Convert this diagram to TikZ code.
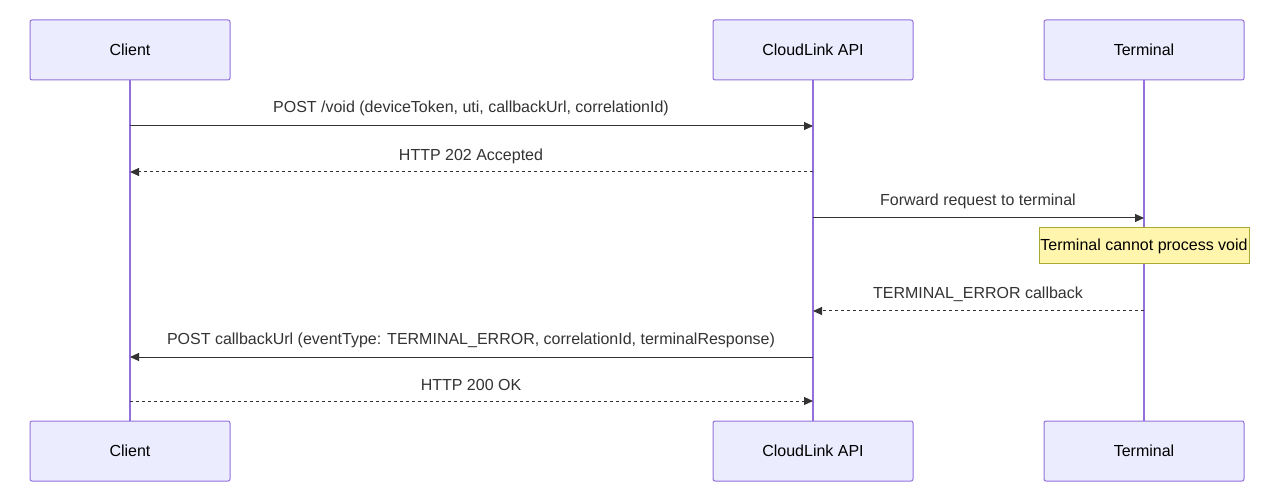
\documentclass[tikz,border=0pt]{standalone}
\usepackage{fontspec}
\setmainfont{Liberation Sans}
\usetikzlibrary{arrows.meta,positioning}
\definecolor{actfill}{HTML}{ECECFF}
\definecolor{actline}{HTML}{9370DB}
\definecolor{msgline}{HTML}{333333}
\definecolor{notefill}{HTML}{FFF5AD}
\definecolor{noteline}{HTML}{AAAA33}
\tikzset{
  actor/.style={draw=actline, fill=actfill, rounded corners=2pt, line width=1pt,
    minimum width=200pt, minimum height=60pt, inner sep=0pt},
  life/.style={draw=actline, line width=1.5pt},
  msg/.style={draw=msgline, line width=1pt, -{Triangle[length=9pt,width=8pt]}},
  reply/.style={msg, dash pattern=on 3pt off 3pt},
  lbl/.style={text=msgline, inner sep=0pt},
}
\begin{document}
\begin{tikzpicture}[x=1pt,y=-1pt,font=\fontsize{16}{19}\selectfont]
  \useasboundingbox (0,0) rectangle (1279,502);

  % actors, top and bottom
  \node [actor] (clientT) at (130,50) {Client};
  \node [actor] (cloudT) at (813,50) {CloudLink API};
  \node [actor] (termT) at (1144,50) {Terminal};
  \node [actor] (clientB) at (130,451) {Client};
  \node [actor] (cloudB) at (813,451) {CloudLink API};
  \node [actor] (termB) at (1144,451) {Terminal};

  % lifelines
  \draw [life] (clientT) -- (clientB);
  \draw [life] (cloudT) -- (cloudB);
  \draw [life] (termT) -- (termB);

  % message anchors
  \coordinate (c1) at (130,126); \coordinate (a1) at (813,126);
  \coordinate (c2) at (130,172); \coordinate (a2) at (813,172);
  \coordinate (a3) at (813,218); \coordinate (t3) at (1144,218);
  \coordinate (a4) at (813,311); \coordinate (t4) at (1144,311);
  \coordinate (c5) at (130,357); \coordinate (a5) at (813,357);
  \coordinate (c6) at (130,401); \coordinate (a6) at (813,401);

  \draw [msg] (c1) -- (a1);
  \node [lbl] at (471,108) {POST /void (deviceToken, uti, callbackUrl, correlationId)};
  \draw [reply] (a2) -- (c2);
  \node [lbl] at (471,156) {HTTP 202 Accepted};
  \draw [msg] (a3) -- (t3);
  \node [lbl] at (978,201) {Forward request to terminal};

  \node [draw=noteline, fill=notefill, line width=1pt, minimum width=210pt,
    minimum height=36pt, inner sep=0pt] (note) at (1144,246) {Terminal cannot process void};

  \draw [reply] (t4) -- (a4);
  \node [lbl] at (978,294) {TERMINAL\_ERROR callback};
  \draw [msg] (a5) -- (c5);
  \node [lbl] at (471,340) {POST callbackUrl (eventType: TERMINAL\_ERROR, correlationId, terminalResponse)};
  \draw [reply] (c6) -- (a6);
  \node [lbl] at (471,385) {HTTP 200 OK};
\end{tikzpicture}
\end{document}
